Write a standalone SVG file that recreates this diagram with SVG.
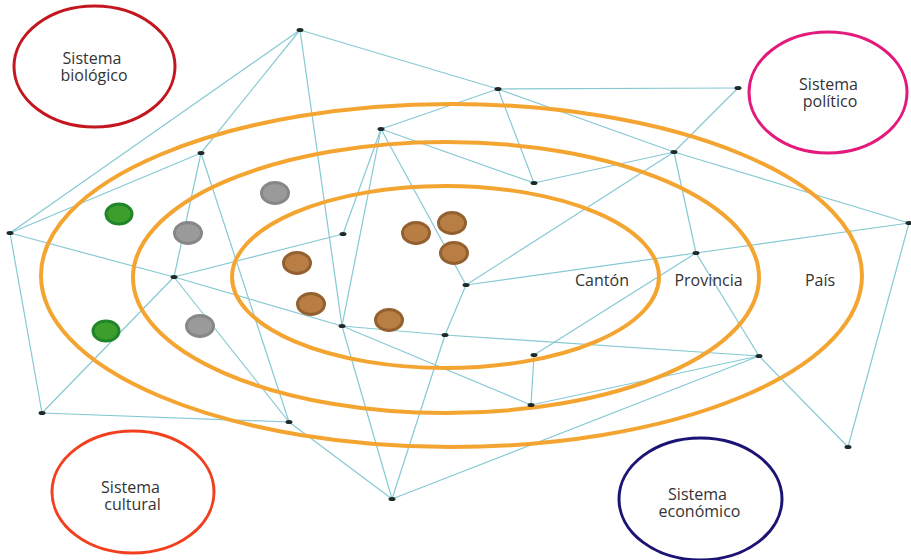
<svg xmlns="http://www.w3.org/2000/svg" width="911" height="560" viewBox="0 0 911 560">
<style>
.c{stroke:#86c9d3;stroke-width:1.2;fill:none}
.ring{fill:none;stroke:#f4a531;stroke-width:4}
.dot{fill:#1e2a2a}
.sys{fill:#fff;stroke-width:3}
.t{font-family:"Open Sans","Noto Sans",sans-serif;font-size:16px;fill:#333;text-anchor:middle}
.lbl{font-family:"Open Sans","Noto Sans",sans-serif;font-size:16px;fill:#333;text-anchor:middle}
.green{fill:#3d9e2c;stroke:#21862a;stroke-width:3}
.gray{fill:#9a9a9a;stroke:#878787;stroke-width:3}
.brown{fill:#b87e44;stroke:#93602f;stroke-width:3}
</style>
<rect width="911" height="560" fill="#fff"/>
<g id="connectors">
<line class="c" x1="300" y1="30" x2="498" y2="89"/>
<line class="c" x1="300" y1="30" x2="10" y2="233"/>
<line class="c" x1="300" y1="30" x2="201" y2="153"/>
<line class="c" x1="300" y1="30" x2="342" y2="326"/>
<line class="c" x1="498" y1="89" x2="738" y2="88"/>
<line class="c" x1="498" y1="89" x2="381" y2="129"/>
<line class="c" x1="498" y1="89" x2="534" y2="183"/>
<line class="c" x1="498" y1="89" x2="674" y2="152"/>
<line class="c" x1="738" y1="88" x2="674" y2="152"/>
<line class="c" x1="381" y1="129" x2="343" y2="234"/>
<line class="c" x1="381" y1="129" x2="342" y2="326"/>
<line class="c" x1="381" y1="129" x2="534" y2="183"/>
<line class="c" x1="381" y1="129" x2="466" y2="285"/>
<line class="c" x1="201" y1="153" x2="10" y2="233"/>
<line class="c" x1="201" y1="153" x2="174" y2="277"/>
<line class="c" x1="201" y1="153" x2="289" y2="422"/>
<line class="c" x1="674" y1="152" x2="909" y2="223"/>
<line class="c" x1="674" y1="152" x2="696" y2="253"/>
<line class="c" x1="674" y1="152" x2="534" y2="183"/>
<line class="c" x1="674" y1="152" x2="466" y2="285"/>
<line class="c" x1="10" y1="233" x2="174" y2="277"/>
<line class="c" x1="10" y1="233" x2="42" y2="413"/>
<line class="c" x1="343" y1="234" x2="174" y2="277"/>
<line class="c" x1="174" y1="277" x2="342" y2="326"/>
<line class="c" x1="174" y1="277" x2="42" y2="413"/>
<line class="c" x1="174" y1="277" x2="289" y2="422"/>
<line class="c" x1="466" y1="285" x2="696" y2="253"/>
<line class="c" x1="696" y1="253" x2="909" y2="223"/>
<line class="c" x1="466" y1="285" x2="445" y2="335"/>
<line class="c" x1="445" y1="335" x2="392" y2="499"/>
<line class="c" x1="342" y1="326" x2="445" y2="335"/>
<line class="c" x1="445" y1="335" x2="759" y2="356"/>
<line class="c" x1="342" y1="326" x2="531" y2="405"/>
<line class="c" x1="342" y1="326" x2="392" y2="499"/>
<line class="c" x1="696" y1="253" x2="759" y2="356"/>
<line class="c" x1="759" y1="356" x2="848" y2="447"/>
<line class="c" x1="696" y1="253" x2="534" y2="355"/>
<line class="c" x1="909" y1="223" x2="848" y2="447"/>
<line class="c" x1="759" y1="356" x2="531" y2="405"/>
<line class="c" x1="759" y1="356" x2="392" y2="499"/>
<line class="c" x1="534" y1="355" x2="531" y2="405"/>
<line class="c" x1="42" y1="413" x2="289" y2="422"/>
<line class="c" x1="289" y1="422" x2="392" y2="499"/>
</g>
<g id="rings">
<ellipse id="pais" class="ring" cx="451.5" cy="275.5" rx="410.5" ry="171.5"/>
<ellipse id="provincia" class="ring" cx="446" cy="277.5" rx="313" ry="135.5"/>
<ellipse id="canton" class="ring" cx="445.5" cy="277" rx="213.5" ry="91"/>
<text class="lbl" x="602" y="286">Cantón</text>
<text class="lbl" x="708.5" y="286">Provincia</text>
<text class="lbl" x="820" y="286">País</text>
</g>
<g id="elements">
<ellipse class="green" cx="119" cy="214" rx="13" ry="10"/>
<ellipse class="green" cx="106" cy="331" rx="13" ry="10"/>
<ellipse class="gray" cx="275" cy="193" rx="13.5" ry="10.5"/>
<ellipse class="gray" cx="188" cy="233" rx="13.5" ry="10.5"/>
<ellipse class="gray" cx="200" cy="326" rx="13.5" ry="10.5"/>
<ellipse class="brown" cx="416" cy="233" rx="13.5" ry="10.5"/>
<ellipse class="brown" cx="452" cy="223" rx="13.5" ry="10.5"/>
<ellipse class="brown" cx="454" cy="253" rx="13.5" ry="10.5"/>
<ellipse class="brown" cx="297" cy="263" rx="13.5" ry="10.5"/>
<ellipse class="brown" cx="311" cy="304" rx="13.5" ry="10.5"/>
<ellipse class="brown" cx="389" cy="320" rx="13.5" ry="10.5"/>
</g>
<g id="nodes">
<ellipse id="nA" class="dot" cx="300" cy="30" rx="3.5" ry="2"/>
<ellipse id="nB" class="dot" cx="498" cy="89" rx="3.5" ry="2"/>
<ellipse id="nC" class="dot" cx="738" cy="88" rx="3.5" ry="2"/>
<ellipse id="nD" class="dot" cx="381" cy="129" rx="3.5" ry="2"/>
<ellipse id="nE" class="dot" cx="201" cy="153" rx="3.5" ry="2"/>
<ellipse id="nF" class="dot" cx="674" cy="152" rx="3.5" ry="2"/>
<ellipse id="nG" class="dot" cx="534" cy="183" rx="3.5" ry="2"/>
<ellipse id="nH" class="dot" cx="10" cy="233" rx="3.5" ry="2"/>
<ellipse id="nI" class="dot" cx="909" cy="223" rx="3.5" ry="2"/>
<ellipse id="nJ" class="dot" cx="343" cy="234" rx="3.5" ry="2"/>
<ellipse id="nK" class="dot" cx="696" cy="253" rx="3.5" ry="2"/>
<ellipse id="nL" class="dot" cx="174" cy="277" rx="3.5" ry="2"/>
<ellipse id="nM" class="dot" cx="466" cy="285" rx="3.5" ry="2"/>
<ellipse id="nN" class="dot" cx="342" cy="326" rx="3.5" ry="2"/>
<ellipse id="nO" class="dot" cx="445" cy="335" rx="3.5" ry="2"/>
<ellipse id="nP" class="dot" cx="534" cy="355" rx="3.5" ry="2"/>
<ellipse id="nQ" class="dot" cx="759" cy="356" rx="3.5" ry="2"/>
<ellipse id="nR" class="dot" cx="531" cy="405" rx="3.5" ry="2"/>
<ellipse id="nS" class="dot" cx="42" cy="413" rx="3.5" ry="2"/>
<ellipse id="nT" class="dot" cx="289" cy="422" rx="3.5" ry="2"/>
<ellipse id="nU" class="dot" cx="848" cy="447" rx="3.5" ry="2"/>
<ellipse id="nV" class="dot" cx="392" cy="499" rx="3.5" ry="2"/>
</g>
<g id="sistema-biologico">
<ellipse class="sys" cx="94.5" cy="66.5" rx="80.5" ry="60.5" stroke="#c3161f"/>
<text class="t" x="92" y="64">Sistema</text>
<text class="t" x="94" y="81">biológico</text>
</g>
<g id="sistema-politico">
<ellipse class="sys" cx="828" cy="92.5" rx="79" ry="60.5" stroke="#e3197c"/>
<text class="t" x="828.5" y="90">Sistema</text>
<text class="t" x="830" y="107">político</text>
</g>
<g id="sistema-cultural">
<ellipse class="sys" cx="133" cy="492" rx="81" ry="61" stroke="#f2401f"/>
<text class="t" x="130.5" y="493">Sistema</text>
<text class="t" x="132.5" y="510">cultural</text>
</g>
<g id="sistema-economico">
<ellipse class="sys" cx="700.5" cy="499" rx="81.5" ry="61" stroke="#1c1475"/>
<text class="t" x="697.5" y="500">Sistema</text>
<text class="t" x="699.5" y="517">económico</text>
</g>
</svg>
